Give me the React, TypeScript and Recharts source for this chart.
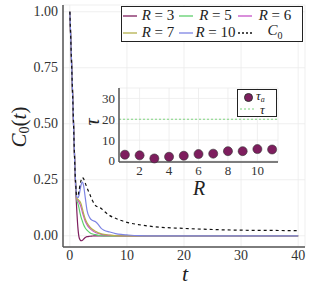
import {
  CartesianGrid,
  ComposedChart,
  Label,
  Line,
  LineChart,
  ReferenceLine,
  Scatter,
  XAxis,
  YAxis,
} from "recharts";

// main panel: C0(t) for a few R
const times = [0, 0.5, 1, 1.2, 1.4, 1.6, 1.8, 2, 2.2, 2.4, 2.7, 3, 3.5, 4, 4.5, 5, 5.5, 6, 7, 8, 9, 10, 12, 15, 20, 25, 30, 35, 40];
const r3 = [1, 0.62, 0.22, 0.12, 0.04, -0.005, -0.018, -0.022, -0.02, -0.015, -0.008, -0.004, -0.002, -0.001, 0, 0, 0, 0, 0, 0, 0, 0, 0, 0, 0, 0, 0, 0, 0];
const r5 = [1, 0.62, 0.24, 0.16, 0.145, 0.125, 0.1, 0.08, 0.065, 0.05, 0.035, 0.025, 0.014, 0.008, 0.005, 0.002, 0.001, 0, 0, 0, 0, 0, 0, 0, 0, 0, 0, 0, 0];
const r6 = [1, 0.62, 0.24, 0.165, 0.158, 0.15, 0.14, 0.125, 0.105, 0.088, 0.065, 0.05, 0.033, 0.022, 0.015, 0.01, 0.006, 0.004, 0.002, 0.001, 0, 0, 0, 0, 0, 0, 0, 0, 0];
const r7 = [1, 0.62, 0.24, 0.168, 0.163, 0.158, 0.152, 0.14, 0.12, 0.1, 0.075, 0.058, 0.04, 0.028, 0.02, 0.013, 0.009, 0.006, 0.003, 0.001, 0, 0, 0, 0, 0, 0, 0, 0, 0];
const r10 = [1, 0.62, 0.24, 0.175, 0.17, 0.18, 0.205, 0.23, 0.24, 0.225, 0.17, 0.115, 0.08, 0.068, 0.063, 0.05, 0.033, 0.025, 0.017, 0.01, 0.006, 0.004, 0.001, 0, 0, 0, 0, 0, 0];
const c0 = [1, 0.62, 0.24, 0.18, 0.18, 0.2, 0.23, 0.25, 0.26, 0.255, 0.235, 0.215, 0.185, 0.155, 0.135, 0.128, 0.122, 0.11, 0.09, 0.078, 0.068, 0.06, 0.05, 0.04, 0.033, 0.028, 0.025, 0.024, 0.023];

const xTicks = [0, 10, 20, 30, 40];
const yTicks = [0, 0.25, 0.5, 0.75, 1];

// inset: tau_a vs R
const rValues = [1, 2, 3, 4, 5, 6, 7, 8, 9, 10, 11];
const tauA = [3, 2.7, 1.2, 2, 2.5, 3.3, 3.5, 4.7, 4.7, 5.7, 5.5];
const tauRef = 20;
const insetXTicks = [2, 4, 6, 8, 10];
const insetYTicks = [0, 10, 20, 30];

const COL = {
  r3: "#7e1e5e",
  r5: "#5fcf6c",
  r6: "#c553c8",
  r7: "#b3b04c",
  r10: "#7d84e4",
  c0: "#111",
  tau: "#7fd67f",
};

const series = [
  { key: "r3", label: "3", color: COL.r3, dash: undefined },
  { key: "r5", label: "5", color: COL.r5, dash: undefined },
  { key: "r6", label: "6", color: COL.r6, dash: undefined },
  { key: "r7", label: "7", color: COL.r7, dash: undefined },
  { key: "r10", label: "10", color: COL.r10, dash: undefined },
  { key: "c0", label: "C0", color: COL.c0, dash: "3 3" },
];

const serif = "'Liberation Serif', 'DejaVu Serif', serif";

const mainData = times.map((t, i) => ({
  t,
  r3: r3[i],
  r5: r5[i],
  r6: r6[i],
  r7: r7[i],
  r10: r10[i],
  c0: c0[i],
}));

const insetData = rValues.map((r, i) => ({ R: r, tau: tauA[i] }));

// tick text drawn by hand; x ticks follow the scale, y ticks right-aligned at a fixed column
function xTick(size: number, baseY: number) {
  return (props: any) => (
    <text
      x={props.x}
      y={baseY}
      textAnchor="middle"
      dominantBaseline="central"
      style={{ fontFamily: serif, fontSize: size }}
      fill="#333"
    >
      {props.payload.value}
    </text>
  );
}

function yTick(size: number, rightX: number, fmt: (v: number) => string) {
  return (props: any) => (
    <text
      x={rightX}
      y={props.y}
      textAnchor="end"
      dominantBaseline="central"
      style={{ fontFamily: serif, fontSize: size }}
      fill="#333"
    >
      {fmt(props.payload.value)}
    </text>
  );
}

// axis titles at fixed spots
function AxisTitle({ x, y, rotate, size, children }: any) {
  return (
    <text
      x={x}
      y={y}
      transform={rotate ? `rotate(-90 ${x} ${y})` : undefined}
      textAnchor="middle"
      dominantBaseline="central"
      style={{ fontFamily: serif, fontSize: size }}
      fill="#222"
    >
      {children}
    </text>
  );
}

const YLabel = () => (
  <AxisTitle x={19} y={127} rotate size={21}>
    <tspan fontStyle="italic">C</tspan>
    <tspan fontSize={14} dy={5}>0</tspan>
    <tspan dy={-5}>(</tspan>
    <tspan fontStyle="italic">t</tspan>
    <tspan>)</tspan>
  </AxisTitle>
);

const XLabel = () => (
  <AxisTitle x={185} y={273} size={22}>
    <tspan fontStyle="italic">t</tspan>
  </AxisTitle>
);

// inset chart sits at (80, 80)
const TauLabel = () => (
  <AxisTitle x={12} y={42} rotate size={20}>
    <tspan fontStyle="italic">τ</tspan>
  </AxisTitle>
);

const RLabel = () => (
  <AxisTitle x={119} y={108} size={20}>
    <tspan fontStyle="italic">R</tspan>
  </AxisTitle>
);

function Swatch({ color, dash }: { color: string; dash?: string }) {
  return (
    <svg width={14} height={4} style={{ display: "block", flex: "none" }}>
      <line x1={0} y1={2} x2={14} y2={2} stroke={color} strokeWidth={1.3} strokeDasharray={dash ? "2 2" : undefined} />
    </svg>
  );
}

function LegendLabel({ label }: { label: string }) {
  if (label === "C0") {
    return (
      <span>
        <i>C</i>
        <sub style={{ fontSize: 10 }}>0</sub>
      </span>
    );
  }
  return (
    <span>
      <i>R</i> = {label}
    </span>
  );
}

function MainLegend() {
  const cols = [123, 179, 238];
  return (
    <div
      style={{
        position: "absolute",
        left: 121,
        top: 6,
        width: 180,
        height: 34,
        border: "1px solid #222",
        background: "#fff",
        fontFamily: serif,
        fontSize: 15,
        color: "#222",
      }}
    >
      {series.map((s, i) => {
        const col = i % 3;
        const row = Math.floor(i / 3);
        const left = cols[col] - 122;
        const width = col === 2 ? 60 : cols[col + 1] - cols[col];
        return (
          <div
            key={s.key}
            style={{
              position: "absolute",
              left,
              top: row * 17,
              width,
              height: 17,
              display: "flex",
              alignItems: "center",
            }}
          >
            <Swatch color={s.color} dash={s.dash} />
            <div style={{ flex: 1, textAlign: "center", whiteSpace: "nowrap", lineHeight: "17px" }}>
              <LegendLabel label={s.label} />
            </div>
          </div>
        );
      })}
    </div>
  );
}

function InsetLegend() {
  return (
    <div
      style={{
        position: "absolute",
        left: 237,
        top: 89,
        width: 38,
        height: 26,
        border: "1px solid #222",
        background: "#fff",
        fontFamily: serif,
        fontSize: 13,
        fontStyle: "italic",
        color: "#222",
      }}
    >
      <div style={{ position: "absolute", left: 6, top: 3, width: 9, height: 9, borderRadius: "50%", background: COL.r3, border: "1px solid #333", boxSizing: "border-box" }} />
      <div style={{ position: "absolute", left: 18, top: 0, lineHeight: "11px" }}>
        τ<span style={{ fontSize: 8, position: "relative", top: 2 }}>a</span>
      </div>
      <svg style={{ position: "absolute", left: 2, top: 17 }} width={14} height={4}>
        <line x1={0} y1={2} x2={14} y2={2} stroke={COL.tau} strokeWidth={1.2} strokeDasharray="2 2" />
      </svg>
      <div style={{ position: "absolute", left: 22, top: 14, lineHeight: "11px" }}>τ</div>
    </div>
  );
}

export default function App() {
  return (
    <div style={{ position: "absolute", left: 0, top: 0, width: 312, height: 285, background: "#fff", fontFamily: serif }}>
      <LineChart width={312} height={285} data={mainData} margin={{ top: 5, right: 7, bottom: 0, left: 0 }}>
        <CartesianGrid stroke="#ebebeb" strokeWidth={0.8} />
        <XAxis
          dataKey="t"
          type="number"
          domain={[-1.2, 41.2]}
          ticks={xTicks}
          interval={0}
          tick={xTick(14, 255)}
          tickLine={false}
          axisLine={{ stroke: "#555", strokeWidth: 1.5 }}
          height={38}
        >
          <Label content={<XLabel />} />
        </XAxis>
        <YAxis
          type="number"
          domain={[-0.05, 1.03]}
          ticks={yTicks}
          interval={0}
          tick={yTick(14, 58, (v) => v.toFixed(2))}
          tickLine={false}
          axisLine={{ stroke: "#555", strokeWidth: 1.5 }}
          width={63}
        >
          <Label content={<YLabel />} />
        </YAxis>
        {series.map((s) => (
          <Line
            key={s.key}
            dataKey={s.key}
            type="monotone"
            stroke={s.color}
            strokeWidth={1.2}
            strokeDasharray={s.dash}
            dot={false}
            isAnimationActive={false}
          />
        ))}
      </LineChart>
      <MainLegend />

      <div style={{ position: "absolute", left: 80, top: 80 }}>
        <ComposedChart width={200} height={120} data={insetData} margin={{ top: 8, right: 2, bottom: 0, left: 0 }}>
          <CartesianGrid stroke="#ebebeb" strokeWidth={0.8} />
          <XAxis
            dataKey="R"
            type="number"
            domain={[0.6, 11.4]}
            ticks={insetXTicks}
            interval={0}
            tick={xTick(13, 90)}
            tickLine={false}
            axisLine={{ stroke: "#555", strokeWidth: 1.5 }}
            height={38}
          >
            <Label content={<RLabel />} />
          </XAxis>
          <YAxis
            type="number"
            domain={[-0.5, 35]}
            ticks={insetYTicks}
            interval={0}
            tick={yTick(13, 35, String)}
            tickLine={false}
            axisLine={{ stroke: "#555", strokeWidth: 1.5 }}
            width={39}
          >
            <Label content={<TauLabel />} />
          </YAxis>
          <ReferenceLine y={tauRef} stroke={COL.tau} strokeWidth={1.2} strokeDasharray="2 2" />
          <Scatter dataKey="tau" fill={COL.r3} stroke="#333" strokeWidth={0.6} shape="circle" isAnimationActive={false} />
        </ComposedChart>
      </div>
      <InsetLegend />
    </div>
  );
}
